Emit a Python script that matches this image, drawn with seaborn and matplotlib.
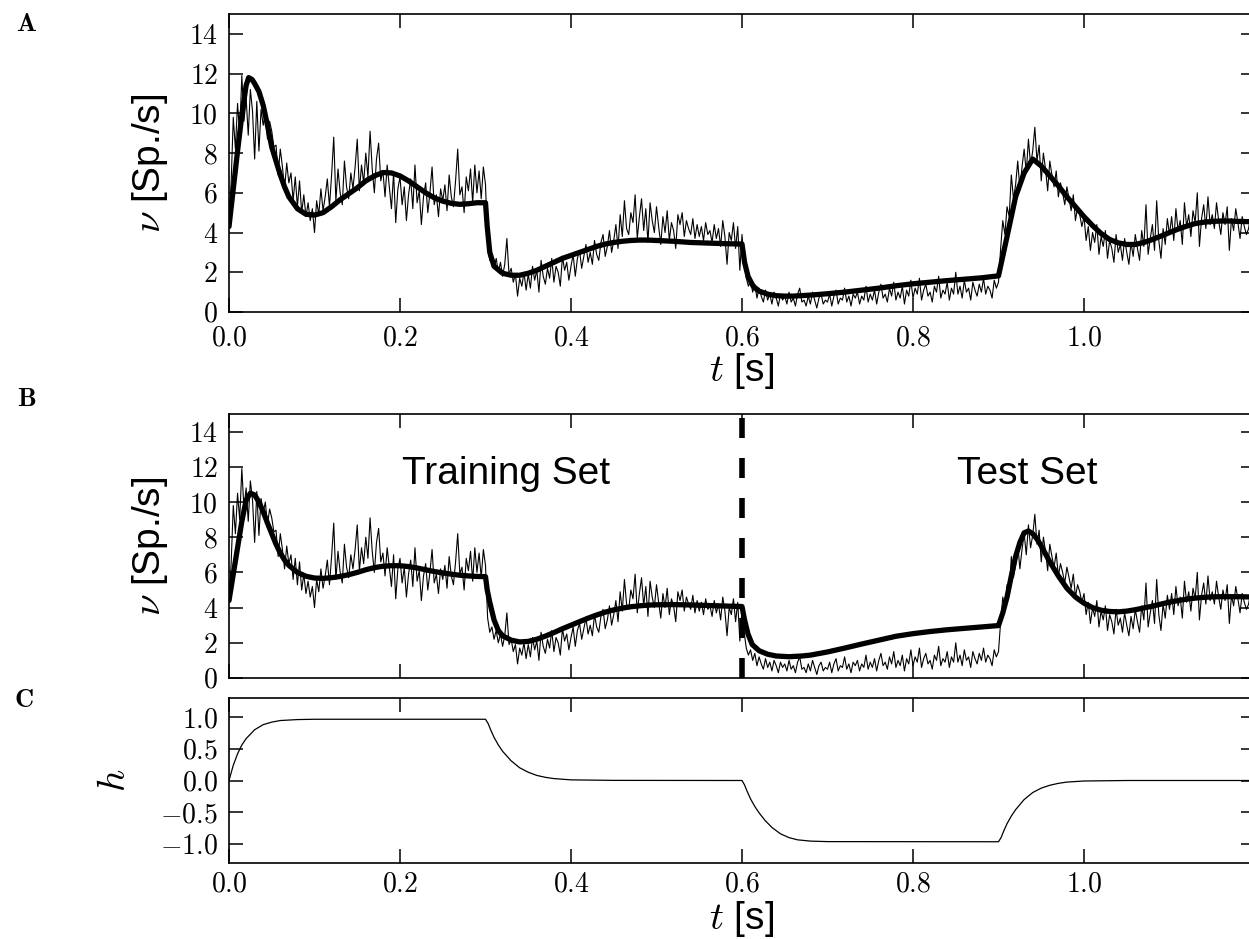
import numpy as np
import pandas as pd
import matplotlib
matplotlib.use("Agg")
import matplotlib.pyplot as plt
import seaborn as sns
from matplotlib.ticker import FuncFormatter, FixedLocator

# ---------------- data ----------------
noise_dt = 0.0025  # sampling step of the measured (noisy) rate trace [s]

noise_seg1 = [  # 0.0 - 0.3 s
    4.3, 6.5, 9.8, 8.2, 10.5, 9.0, 11.9, 9.6, 10.8, 8.9, 11.2, 10.1, 7.7, 10.6, 8.1, 10.2, 9.4, 10.0, 8.7, 9.6,
    9.1, 8.3, 8.4, 6.9, 8.2, 7.3, 6.2, 7.5, 6.5, 7.0, 5.6, 6.8, 5.3, 6.6, 5.0, 5.9, 4.8, 5.5, 4.6, 5.2,
    4.0, 5.6, 4.9, 6.2, 5.1, 5.8, 6.7, 5.3, 6.9, 8.8, 5.6, 7.2, 6.0, 5.4, 7.6, 6.3, 5.7, 7.0, 6.2, 7.3,
    8.7, 6.1, 7.4, 6.5, 8.0, 6.8, 9.1, 7.2, 6.0, 7.7, 8.5, 6.6, 7.1, 5.8, 7.4, 6.3, 5.2, 7.0, 4.5, 6.2,
    6.8, 5.4, 6.3, 4.6, 5.9, 6.7, 5.2, 7.4, 5.5, 6.1, 4.4, 5.8, 6.5, 5.0, 6.0, 7.3, 5.4, 5.9, 4.8, 6.2,
    5.6, 6.4, 5.1, 6.9, 5.8, 5.3, 6.6, 8.2, 5.9, 6.3, 5.0, 6.8, 6.1, 7.2, 5.5, 7.4, 6.0, 7.1, 5.7, 7.3,
]
noise_seg2 = [  # 0.3 - 0.6 s
    6.4, 3.4, 2.6, 2.9, 2.2, 2.7, 2.0, 2.5, 1.8, 2.4, 3.7, 1.9, 2.2, 1.5, 1.9, 0.8, 1.7, 1.3, 2.0, 1.1,
    1.9, 1.2, 2.3, 1.6, 2.1, 1.0, 2.6, 1.8, 1.4, 2.2, 1.7, 2.7, 1.5, 2.3, 2.0, 1.3, 2.8, 2.1, 2.5, 1.6,
    2.3, 2.9, 1.8, 2.7, 3.1, 2.2, 2.8, 3.4, 2.5, 3.0, 2.4, 3.6, 2.9, 2.6, 3.5, 3.9, 2.8, 3.3, 4.1, 3.0,
    3.6, 4.4, 3.2, 4.9, 3.8, 5.6, 4.2, 3.9, 5.0, 4.5, 5.9, 3.7, 4.8, 5.7, 4.1, 5.2, 3.5, 5.5, 4.6, 4.0,
    5.3, 4.3, 3.4, 4.8, 4.0, 5.1, 3.6, 4.5, 4.1, 3.2, 4.9, 4.4, 5.0, 3.8, 4.6, 4.2, 3.9, 4.7, 3.7, 4.4,
    3.8, 4.3, 3.6, 4.5, 3.9, 4.1, 3.5, 4.4, 3.7, 4.2, 3.3, 4.6, 3.8, 2.4, 4.0, 3.6, 4.5, 3.2, 4.3, 2.1,
]
noise_seg3 = [  # 0.6 - 0.9 s
    3.9, 2.6, 1.7, 1.3, 1.6, 1.0, 1.4, 0.7, 1.2, 0.8, 0.5, 1.1, 0.6, 0.9, 0.4, 1.0, 0.7, 0.3, 0.9, 0.6,
    0.8, 0.4, 1.0, 0.5, 0.7, 0.3, 0.9, 1.2, 0.5, 0.6, 0.3, 0.8, 0.4, 1.0, 0.6, 0.2, 0.7, 0.9, 0.4, 0.6,
    0.5, 0.9, 0.3, 0.8, 1.1, 0.4, 0.7, 0.6, 1.2, 0.5, 0.8, 0.3, 0.9, 0.7, 1.0, 0.4, 0.8, 0.6, 1.3, 0.5,
    0.9, 0.6, 1.1, 0.4, 1.0, 1.4, 0.7, 0.9, 0.5, 1.2, 0.8, 1.5, 0.6, 1.0, 0.7, 1.3, 0.4, 1.1, 0.8, 1.6,
    0.7, 1.2, 0.9, 1.7, 0.6, 1.1, 1.4, 0.8, 1.0, 0.5, 1.3, 1.0, 1.8, 0.7, 1.1, 0.9, 1.5, 0.6, 1.2, 0.9,
    2.0, 0.9, 1.3, 0.7, 1.6, 1.0, 1.2, 0.6, 1.5, 1.1, 0.8, 1.4, 1.0, 1.7, 0.9, 1.3, 1.1, 0.7, 1.6, 1.2,
]
noise_seg4 = [  # 0.9 - 1.2 s
    1.5, 3.2, 4.6, 3.9, 5.3, 4.8, 6.9, 5.7, 6.4, 7.6, 6.2, 7.3, 8.2, 7.0, 8.7, 7.4, 8.1, 9.3, 7.6, 8.4,
    6.6, 8.0, 7.2, 6.1, 7.6, 6.9, 6.3, 7.1, 5.8, 6.5, 6.0, 5.4, 6.3, 5.7, 5.1, 5.9, 4.6, 5.3, 4.9, 4.3,
    4.8, 3.6, 4.3, 3.1, 4.0, 3.5, 4.4, 2.9, 3.8, 3.3, 4.1, 2.7, 3.6, 3.2, 2.5, 3.9, 3.0, 3.4, 2.6, 3.7,
    3.0, 2.4, 3.5, 2.8, 3.9, 3.2, 2.6, 4.1, 3.3, 5.4, 2.9, 3.7, 4.4, 3.1, 5.6, 3.6, 2.7, 4.2, 3.4, 4.7,
    3.9, 4.8, 3.6, 5.2, 4.1, 4.6, 3.4, 5.5, 4.3, 4.9, 3.8, 5.1, 4.5, 6.0, 3.3, 4.7, 5.4, 4.2, 5.8, 4.4,
    4.9, 4.2, 5.5, 4.6, 3.9, 5.0, 4.4, 5.3, 3.1, 4.7, 4.1, 5.2, 4.5, 3.7, 4.8, 4.3, 3.9, 4.2, 4.9, 3.8, 4.5,
]

# model fit, panel A
fitA_t = [0.0, 0.005, 0.01, 0.015, 0.02, 0.023, 0.027, 0.03, 0.035, 0.04, 0.045, 0.05, 0.055, 0.06, 0.065,
          0.07, 0.08, 0.09, 0.1, 0.11, 0.12, 0.13, 0.14, 0.15, 0.16, 0.17, 0.18, 0.19, 0.2, 0.21, 0.22,
          0.23, 0.24, 0.25, 0.26, 0.27, 0.28, 0.29, 0.3, 0.302, 0.305, 0.31, 0.32, 0.33, 0.34, 0.35,
          0.36, 0.37, 0.38, 0.39, 0.4, 0.41, 0.42, 0.43, 0.44, 0.45, 0.46, 0.47, 0.48, 0.49, 0.5, 0.52,
          0.54, 0.56, 0.58, 0.6, 0.603, 0.607, 0.613, 0.62, 0.63, 0.64, 0.65, 0.66, 0.68, 0.7, 0.72,
          0.74, 0.76, 0.78, 0.8, 0.82, 0.84, 0.86, 0.88, 0.9, 0.91, 0.92, 0.93, 0.94, 0.95, 0.96, 0.97,
          0.98, 0.99, 1.0, 1.01, 1.02, 1.03, 1.04, 1.05, 1.06, 1.07, 1.08, 1.09, 1.1, 1.11, 1.12, 1.13,
          1.14, 1.15, 1.16, 1.17, 1.18, 1.19, 1.2]
fitA_v = [4.3, 6.2, 8.1, 9.9, 11.4, 11.8, 11.7, 11.5, 11.1, 10.4, 9.4, 8.3, 7.6, 6.9, 6.3,
          5.8, 5.2, 4.92, 4.88, 5.0, 5.3, 5.65, 5.95, 6.25, 6.6, 6.85, 7.02, 7.0, 6.85, 6.6, 6.3,
          6.0, 5.75, 5.58, 5.47, 5.42, 5.45, 5.5, 5.5, 4.3, 3.0, 2.3, 1.95, 1.85, 1.85, 1.95,
          2.1, 2.3, 2.5, 2.7, 2.85, 3.0, 3.15, 3.3, 3.42, 3.5, 3.56, 3.6, 3.62, 3.62, 3.6, 3.56,
          3.5, 3.47, 3.44, 3.42, 2.5, 1.8, 1.3, 1.05, 0.9, 0.82, 0.8, 0.8, 0.85, 0.92, 1.0,
          1.1, 1.2, 1.32, 1.42, 1.5, 1.58, 1.65, 1.72, 1.82, 3.8, 5.8, 7.0, 7.7, 7.35, 6.85, 6.35,
          5.8, 5.3, 4.8, 4.35, 3.95, 3.65, 3.48, 3.4, 3.4, 3.5, 3.65, 3.82, 4.0, 4.17, 4.32, 4.45,
          4.52, 4.56, 4.58, 4.58, 4.56, 4.55, 4.55]

# model fit, panel B (trained on first half, predicted on second half)
fitB_t = [0.0, 0.005, 0.01, 0.015, 0.02, 0.025, 0.03, 0.035, 0.04, 0.045, 0.05, 0.055, 0.06, 0.065,
          0.07, 0.08, 0.09, 0.1, 0.11, 0.12, 0.13, 0.14, 0.15, 0.16, 0.17, 0.18, 0.19, 0.2, 0.21, 0.22,
          0.23, 0.24, 0.25, 0.26, 0.27, 0.28, 0.29, 0.3, 0.302, 0.305, 0.31, 0.315, 0.32, 0.33, 0.34,
          0.35, 0.36, 0.37, 0.38, 0.39, 0.4, 0.41, 0.42, 0.43, 0.44, 0.45, 0.46, 0.47, 0.48, 0.49, 0.5,
          0.52, 0.54, 0.56, 0.58, 0.6, 0.603, 0.607, 0.612, 0.62, 0.63, 0.64, 0.655, 0.67, 0.68, 0.7,
          0.72, 0.74, 0.76, 0.78, 0.8, 0.82, 0.84, 0.86, 0.88, 0.9, 0.905, 0.91, 0.915, 0.92, 0.925,
          0.93, 0.935, 0.94, 0.945, 0.95, 0.96, 0.97, 0.98, 0.99, 1.0, 1.01, 1.02, 1.03, 1.04, 1.05,
          1.06, 1.07, 1.08, 1.09, 1.1, 1.11, 1.12, 1.13, 1.14, 1.15, 1.16, 1.17, 1.18, 1.19, 1.2]
fitB_v = [4.4, 5.9, 7.4, 8.9, 10.1, 10.5, 10.4, 10.0, 9.45, 8.8, 8.2, 7.6, 7.1, 6.7,
          6.4, 6.0, 5.78, 5.68, 5.66, 5.7, 5.77, 5.87, 6.0, 6.15, 6.27, 6.35, 6.38, 6.38, 6.33, 6.25,
          6.15, 6.05, 5.97, 5.9, 5.84, 5.8, 5.77, 5.76, 5.0, 4.3, 3.3, 2.7, 2.4, 2.15, 2.05,
          2.08, 2.2, 2.38, 2.58, 2.8, 3.0, 3.2, 3.4, 3.58, 3.74, 3.87, 3.97, 4.05, 4.1, 4.14, 4.16,
          4.17, 4.15, 4.12, 4.09, 4.06, 3.3, 2.5, 1.9, 1.55, 1.35, 1.25, 1.21, 1.25, 1.3, 1.48,
          1.7, 1.93, 2.15, 2.37, 2.52, 2.64, 2.74, 2.82, 2.9, 2.98, 3.7, 4.6, 5.8, 6.9, 7.7,
          8.25, 8.35, 8.2, 7.9, 7.5, 6.6, 5.8, 5.1, 4.6, 4.25, 4.0, 3.85, 3.78, 3.76, 3.8,
          3.88, 3.98, 4.08, 4.2, 4.31, 4.4, 4.48, 4.54, 4.58, 4.61, 4.62, 4.62, 4.62, 4.61, 4.6]

# input signal h, panel C
h_t = [0.0, 0.005, 0.01, 0.015, 0.02, 0.03, 0.04, 0.05, 0.06, 0.08, 0.1, 0.3,
       0.303, 0.306, 0.31, 0.315, 0.32, 0.33, 0.34, 0.35, 0.36, 0.37, 0.38, 0.4, 0.45, 0.6,
       0.603, 0.606, 0.61, 0.615, 0.62, 0.627, 0.635, 0.645, 0.655, 0.665, 0.68, 0.7, 0.9,
       0.903, 0.906, 0.91, 0.915, 0.92, 0.93, 0.94, 0.95, 0.96, 0.97, 0.98, 1.0, 1.05, 1.2]
h_v = [0.0, 0.24, 0.42, 0.56, 0.66, 0.80, 0.88, 0.92, 0.945, 0.96, 0.965, 0.965,
       0.9, 0.8, 0.68, 0.56, 0.46, 0.31, 0.2, 0.13, 0.08, 0.05, 0.03, 0.01, 0.002, 0.0,
       -0.07, -0.17, -0.29, -0.41, -0.51, -0.63, -0.74, -0.84, -0.9, -0.935, -0.955, -0.963, -0.965,
       -0.9, -0.8, -0.68, -0.56, -0.46, -0.3, -0.19, -0.12, -0.075, -0.045, -0.025, -0.008, 0.0, 0.0]

split_t = 0.6
x_ticks = [0.0, 0.2, 0.4, 0.6, 0.8, 1.0]
rate_ticks = [0, 2, 4, 6, 8, 10, 12, 14]
h_ticks = [-1.0, -0.5, 0.0, 0.5, 1.0]

noise_v = np.array(noise_seg1 + noise_seg2 + noise_seg3 + noise_seg4)
noise_t = np.arange(len(noise_v)) * noise_dt
df_noise = pd.DataFrame({"t": noise_t, "v": noise_v})
dfA = pd.DataFrame({"t": fitA_t, "v": fitA_v})
dfB = pd.DataFrame({"t": fitB_t, "v": fitB_v})
dfh = pd.DataFrame({"t": h_t, "h": h_v})

# ---------------- style ----------------
sns.set_style("ticks")
plt.rcParams["font.family"] = ["Liberation Sans", "DejaVu Sans"]
plt.rcParams["mathtext.fontset"] = "cm"
plt.rcParams["axes.edgecolor"] = "black"
plt.rcParams["axes.linewidth"] = 1.2
plt.rcParams["text.color"] = "black"
plt.rcParams["axes.labelcolor"] = "black"
plt.rcParams["xtick.color"] = "black"
plt.rcParams["ytick.color"] = "black"

W, H = 1249, 939
fig = plt.figure(figsize=(W / 100, H / 100), dpi=100)

ax_left = 229 / W
ax_width = (1255 - 229) / W
axA = fig.add_axes([ax_left, 1 - 312 / H, ax_width, 298 / H])
axB = fig.add_axes([ax_left, 1 - 678 / H, ax_width, 264 / H])
axC = fig.add_axes([ax_left, 1 - 863 / H, ax_width, 165 / H])

fmt1 = FuncFormatter(lambda v, p: f"${v:.1f}$")
fmt0 = FuncFormatter(lambda v, p: f"${v:.0f}$")

TICK_FS = 20
LABEL_FS = 28

for ax in (axA, axB, axC):
    ax.set_xlim(0, 1.2)
    ax.xaxis.set_major_locator(FixedLocator(x_ticks))
    ax.xaxis.set_major_formatter(fmt1)
    ax.tick_params(direction="in", length=10, width=1.1, top=True, right=True,
                   labelsize=TICK_FS, pad=8, colors="black")
    for s in ax.spines.values():
        s.set_visible(True)
        s.set_linewidth(1.2)
        s.set_color("black")

# Panel A
sns.lineplot(data=df_noise, x="t", y="v", ax=axA, color="black", lw=0.8, estimator=None)
sns.lineplot(data=dfA, x="t", y="v", ax=axA, color="black", lw=3.8, estimator=None)
axA.set_ylim(0, 15)
axA.yaxis.set_major_locator(FixedLocator(rate_ticks))
axA.yaxis.set_major_formatter(fmt0)
axA.tick_params(axis="x", pad=10)
axA.set_xlabel(r"$t$ [s]", fontsize=LABEL_FS, color="black")
axA.set_ylabel(r"$\nu$ [Sp./s]", fontsize=LABEL_FS, color="black")
axA.xaxis.set_label_coords(0.5, -0.13)
axA.yaxis.set_label_coords(-0.0575, 0.5)

# Panel B
sns.lineplot(data=df_noise, x="t", y="v", ax=axB, color="black", lw=0.8, estimator=None)
sns.lineplot(data=dfB, x="t", y="v", ax=axB, color="black", lw=3.8, estimator=None)
axB.axvline(split_t, color="black", lw=4.0, dashes=(3.6, 3.6), zorder=5)
axB.set_ylim(0, 15)
axB.yaxis.set_major_locator(FixedLocator(rate_ticks))
axB.yaxis.set_major_formatter(fmt0)
axB.tick_params(labelbottom=False)
axB.set_xlabel("")
axB.set_ylabel(r"$\nu$ [Sp./s]", fontsize=LABEL_FS, color="black")
axB.yaxis.set_label_coords(-0.0575, 0.5)
axB.text(0.324, 11.0, "Training Set", fontsize=28, ha="center", va="baseline", color="black")
axB.text(0.934, 11.0, "Test Set", fontsize=28, ha="center", va="baseline", color="black")

# Panel C
sns.lineplot(data=dfh, x="t", y="h", ax=axC, color="black", lw=0.9, estimator=None)
axC.set_ylim(-1.3, 1.3)
axC.yaxis.set_major_locator(FixedLocator(h_ticks))
axC.yaxis.set_major_formatter(fmt1)
axC.tick_params(axis="x", pad=6)
axC.set_xlabel(r"$t$ [s]", fontsize=LABEL_FS, color="black")
axC.set_ylabel(r"$h$", fontsize=LABEL_FS, color="black")
axC.xaxis.set_label_coords(0.5, -0.22)
axC.yaxis.set_label_coords(-0.094, 0.5)

# panel letters
for letter, (px, py) in {"A": (27, 24), "B": (27, 399), "C": (24, 700)}.items():
    fig.text(px / W, 1 - py / H, rf"$\mathbf{{{letter}}}$", fontsize=19, ha="center", va="center")

fig.savefig("out.png", dpi=100)
